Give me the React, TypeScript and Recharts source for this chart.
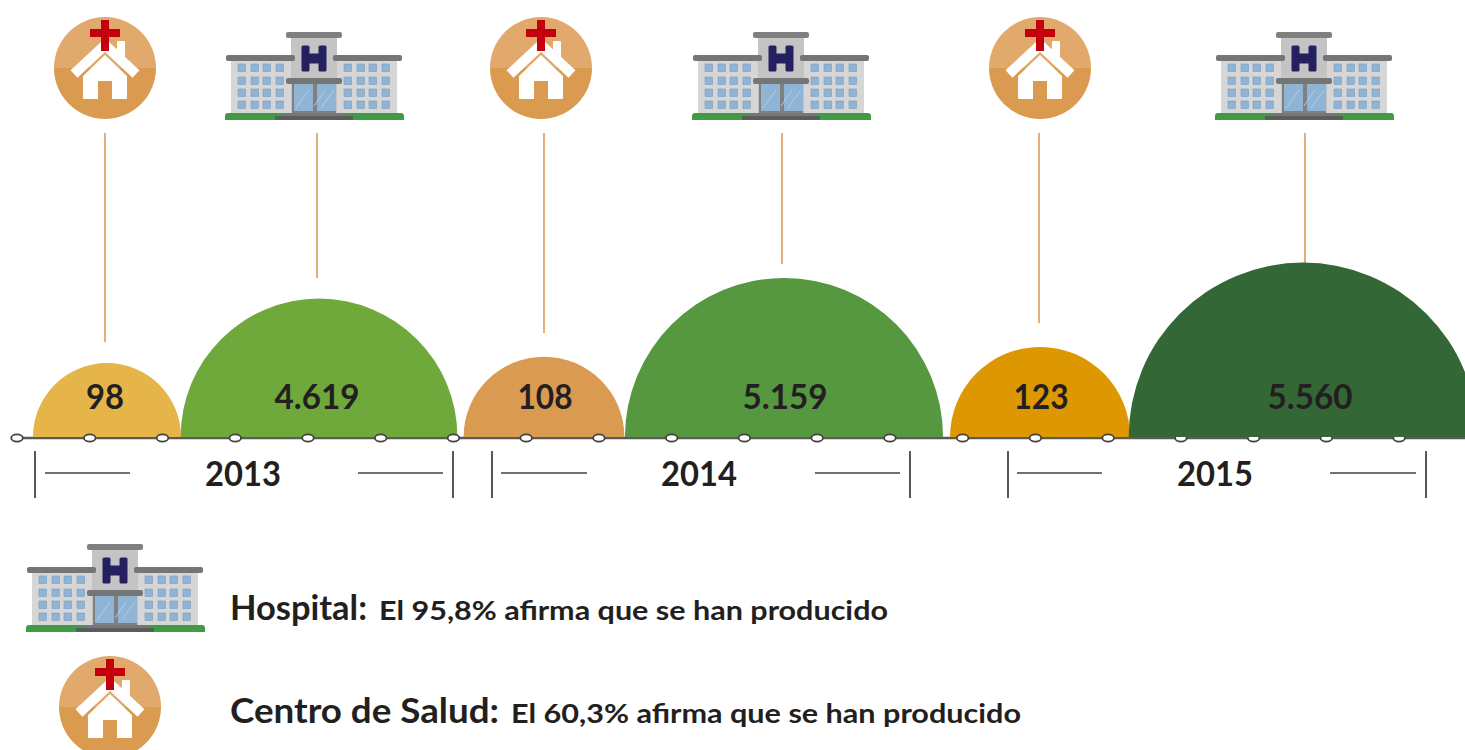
import { ScatterChart, Scatter, XAxis, YAxis, ReferenceLine } from 'recharts'

const years = ['2013', '2014', '2015']
const centroValues = [98, 108, 123]
const hospitalValues = [4619, 5159, 5560]
const centroLabels = ['98', '108', '123']
const hospitalLabels = ['4.619', '5.159', '5.560']
// where each dome sits along the timeline, counted in timeline dots
const centroPositions = [1.237, 7.245, 14.064]
const hospitalPositions = [4.152, 10.544, 17.68]
const timelineDots = [0, 1, 2, 3, 4, 5, 6, 7, 8, 9, 10, 11, 12, 13, 14, 15, 16, 17, 18, 19]

const centroData = centroValues.map((value, i) => ({ pos: centroPositions[i], value, label: centroLabels[i] }))
const hospitalData = hospitalValues.map((value, i) => ({ pos: hospitalPositions[i], value, label: hospitalLabels[i] }))
const dotData = timelineDots.map((pos) => ({ pos, value: 0 }))

const FONT = 'Lato, sans-serif'
const INK = '#231f20'
const ORANGE = '#dd9c58'
const BASE_Y = 437
const TIMELINE_END = 19.906
const centroColors = ['#e5b54a', '#db9a52', '#dd9700']
const hospitalColors = ['#6fa83b', '#55983f', '#336735']
const centroLabelX = [105, 545, 1041]
const hospitalLabelX = [317, 785, 1310]
const labelWidths: Record<string, number> = { '98': 38, '108': 55, '123': 55, '4.619': 85, '5.159': 85, '5.560': 85 }

const clinicIcons = [105, 541, 1040]
const hospitalIcons = [315, 782, 1305]
const leaders = [
  [105, 342],
  [317, 278],
  [544, 333],
  [782, 264],
  [1039, 323],
  [1305, 263]
]
const brackets = [
  { left: 35, right: 453, dashes: [45, 130, 358, 443], text: 243 },
  { left: 492, right: 910, dashes: [501, 587, 815, 900], text: 699 },
  { left: 1008, right: 1426, dashes: [1017, 1102, 1330, 1416], text: 1215 }
]

function Dome(props: any, colors: string[], labelX: number[]) {
  const { cx, cy, index, payload } = props
  const r = BASE_Y - cy
  return (
    <g>
      <path d={`M${cx - r} ${BASE_Y}A${r} ${r} 0 0 1 ${cx + r} ${BASE_Y}Z`} fill={colors[index]} />
      <text
        x={labelX[index]}
        y={409}
        textAnchor="middle"
        fontFamily={FONT}
        fontWeight={700}
        fontSize={34}
        fill={INK}
        textLength={labelWidths[payload.label]}
        lengthAdjust="spacingAndGlyphs"
      >
        {payload.label}
      </text>
    </g>
  )
}

function TimelineDot(props: any) {
  return <ellipse cx={props.cx} cy={props.cy} rx={5.8} ry={3.6} fill="#fff" stroke="#45423f" strokeWidth={1.8} />
}

function ClinicIcon({ x, y }: { x: number; y: number }) {
  return (
    <g transform={`translate(${x} ${y})`}>
      <path d="M-51 0A51 51 0 0 1 51 0Z" fill="#e2a96c" />
      <path d="M-51 0A51 51 0 0 0 51 0Z" fill="#da9a50" />
      <rect x={12} y={-27} width={8} height={22} rx={1} fill="#fff" />
      <path d="M-31 6L0 -23L31 6" fill="none" stroke="#fff" strokeWidth={10} strokeLinejoin="miter" />
      <path d="M0 -13L22 8V30Q22 31 21 31H7V13H-7V31H-21Q-22 31 -22 30V8Z" fill="#fff" />
      <rect x={-4} y={-48} width={8} height={31} fill="#c4000f" />
      <rect x={-15} y={-39} width={30} height={8} fill="#c4000f" />
    </g>
  )
}

const WINDOW_COLS = [-77, -64, -52, -39, 29, 42, 54, 67]
const WINDOW_ROWS = [-56, -43, -31, -19]

// x is the middle of the building, y the bottom of the lawn
function HospitalIcon({ x, y }: { x: number; y: number }) {
  return (
    <g transform={`translate(${x} ${y})`}>
      <path d="M-90 0V-4Q-90 -7 -87 -7H86Q89 -7 89 -4V0Z" fill="#3f9c45" />
      <rect x={-84} y={-60} width={60} height={53} fill="#d6d6d6" />
      <rect x={22} y={-60} width={60} height={53} fill="#d6d6d6" />
      <rect x={-24} y={-82} width={46} height={75} fill="#c4c4c4" />
      <rect x={-89} y={-65} width={69} height={6} rx={2} fill="#757575" />
      <rect x={18} y={-65} width={69} height={6} rx={2} fill="#757575" />
      <rect x={-29} y={-88} width={56} height={6} rx={2} fill="#808080" />
      <path d="M-12 -73H-7V-65H5V-73H10V-50H5V-58H-7V-50H-12Z" fill="#252060" stroke="#252060" strokeWidth={3} strokeLinejoin="round" />
      {WINDOW_COLS.map((cx) =>
        WINDOW_ROWS.map((cy) => (
          <rect key={`${cx}-${cy}`} x={cx} y={cy} width={7.5} height={7.5} fill="#8fb4d6" stroke="#7b9cbc" strokeWidth={0.6} />
        ))
      )}
      <rect x={-23} y={-36} width={44} height={29} fill="#808080" />
      <rect x={-21} y={-36} width={19} height={27} fill="#8fb4d6" />
      <rect x={2} y={-36} width={19} height={27} fill="#8fb4d6" />
      <path d="M-19 -12L-6 -30M10 -30L-1 -14M6 -12L19 -30" stroke="#b4cde3" strokeWidth={1} />
      <rect x={-29} y={-42} width={56} height={6} rx={2} fill="#757575" />
      <rect x={-32} y={-7} width={63} height={3} fill="#777" />
      <rect x={-40} y={-4} width={78} height={4} fill="#5c5c5c" />
    </g>
  )
}

function LegendRow({ y, head, headEnd, body, bodyStart, bodyEnd }: any) {
  return (
    <g fontFamily={FONT} fill={INK}>
      <text x={230} y={y} fontSize={34} fontWeight={700} textLength={headEnd - 230} lengthAdjust="spacingAndGlyphs">
        {head}
      </text>
      <text x={bodyStart} y={y} fontSize={26} fontWeight={700} textLength={bodyEnd - bodyStart} lengthAdjust="spacingAndGlyphs">
        {body}
      </text>
    </g>
  )
}

export default function App() {
  return (
    <div style={{ position: 'absolute', left: 0, top: 0, width: 1465, height: 750, overflow: 'hidden' }}>
      <ScatterChart width={1465} height={750} margin={{ top: 238, right: 0, bottom: 312, left: 0 }}>
        <XAxis type="number" dataKey="pos" domain={[-0.2337, TIMELINE_END]} hide />
        <YAxis yAxisId="centro" type="number" dataKey="value" domain={[-19.2, 293.3]} hide />
        <YAxis yAxisId="hospital" type="number" dataKey="value" domain={[976, 6203]} hide />
        <YAxis yAxisId="timeline" type="number" dataKey="value" domain={[0, 1]} hide />

        {leaders.map(([x, end]) => (
          <line key={x} x1={x} x2={x} y1={133} y2={end} stroke={ORANGE} strokeWidth={1.6} />
        ))}
        {clinicIcons.map((x) => (
          <ClinicIcon key={x} x={x} y={68} />
        ))}
        {hospitalIcons.map((x) => (
          <HospitalIcon key={x} x={x} y={120} />
        ))}

        <ReferenceLine
          yAxisId="timeline"
          segment={[
            { x: 0, y: 0 },
            { x: TIMELINE_END, y: 0 }
          ]}
          stroke="#5a5a58"
          strokeWidth={2.4}
          ifOverflow="visible"
        />
        <Scatter
          yAxisId="centro"
          data={centroData}
          isAnimationActive={false}
          shape={(p: any) => Dome(p, centroColors, centroLabelX)}
        />
        <Scatter
          yAxisId="hospital"
          data={hospitalData.slice(0, 2)}
          isAnimationActive={false}
          shape={(p: any) => Dome(p, hospitalColors, hospitalLabelX)}
        />
        <Scatter yAxisId="timeline" data={dotData} isAnimationActive={false} shape={TimelineDot} />
        <Scatter
          yAxisId="hospital"
          data={hospitalData.slice(2)}
          isAnimationActive={false}
          shape={(p: any) => Dome({ ...p, index: 2 }, hospitalColors, hospitalLabelX)}
        />

        {brackets.map((b, i) => (
          <g key={years[i]}>
            <line x1={b.left} x2={b.left} y1={451} y2={498} stroke={INK} strokeWidth={1.5} />
            <line x1={b.right} x2={b.right} y1={451} y2={498} stroke={INK} strokeWidth={1.5} />
            <line x1={b.dashes[0]} x2={b.dashes[1]} y1={473} y2={473} stroke="#45423f" strokeWidth={1.6} />
            <line x1={b.dashes[2]} x2={b.dashes[3]} y1={473} y2={473} stroke="#45423f" strokeWidth={1.6} />
            <text
              x={b.text}
              y={486}
              textAnchor="middle"
              fontFamily={FONT}
              fontWeight={700}
              fontSize={34}
              fill={INK}
              textLength={76}
              lengthAdjust="spacingAndGlyphs"
            >
              {years[i]}
            </text>
          </g>
        ))}

        <HospitalIcon x={116} y={632} />
        <ClinicIcon x={110} y={707} />
        <LegendRow y={620} head="Hospital:" headEnd={367} body="El 95,8% afirma que se han producido" bodyStart={379} bodyEnd={888} />
        <LegendRow y={723} head="Centro de Salud:" headEnd={499} body="El 60,3% afirma que se han producido" bodyStart={511} bodyEnd={1021} />
      </ScatterChart>
    </div>
  )
}
